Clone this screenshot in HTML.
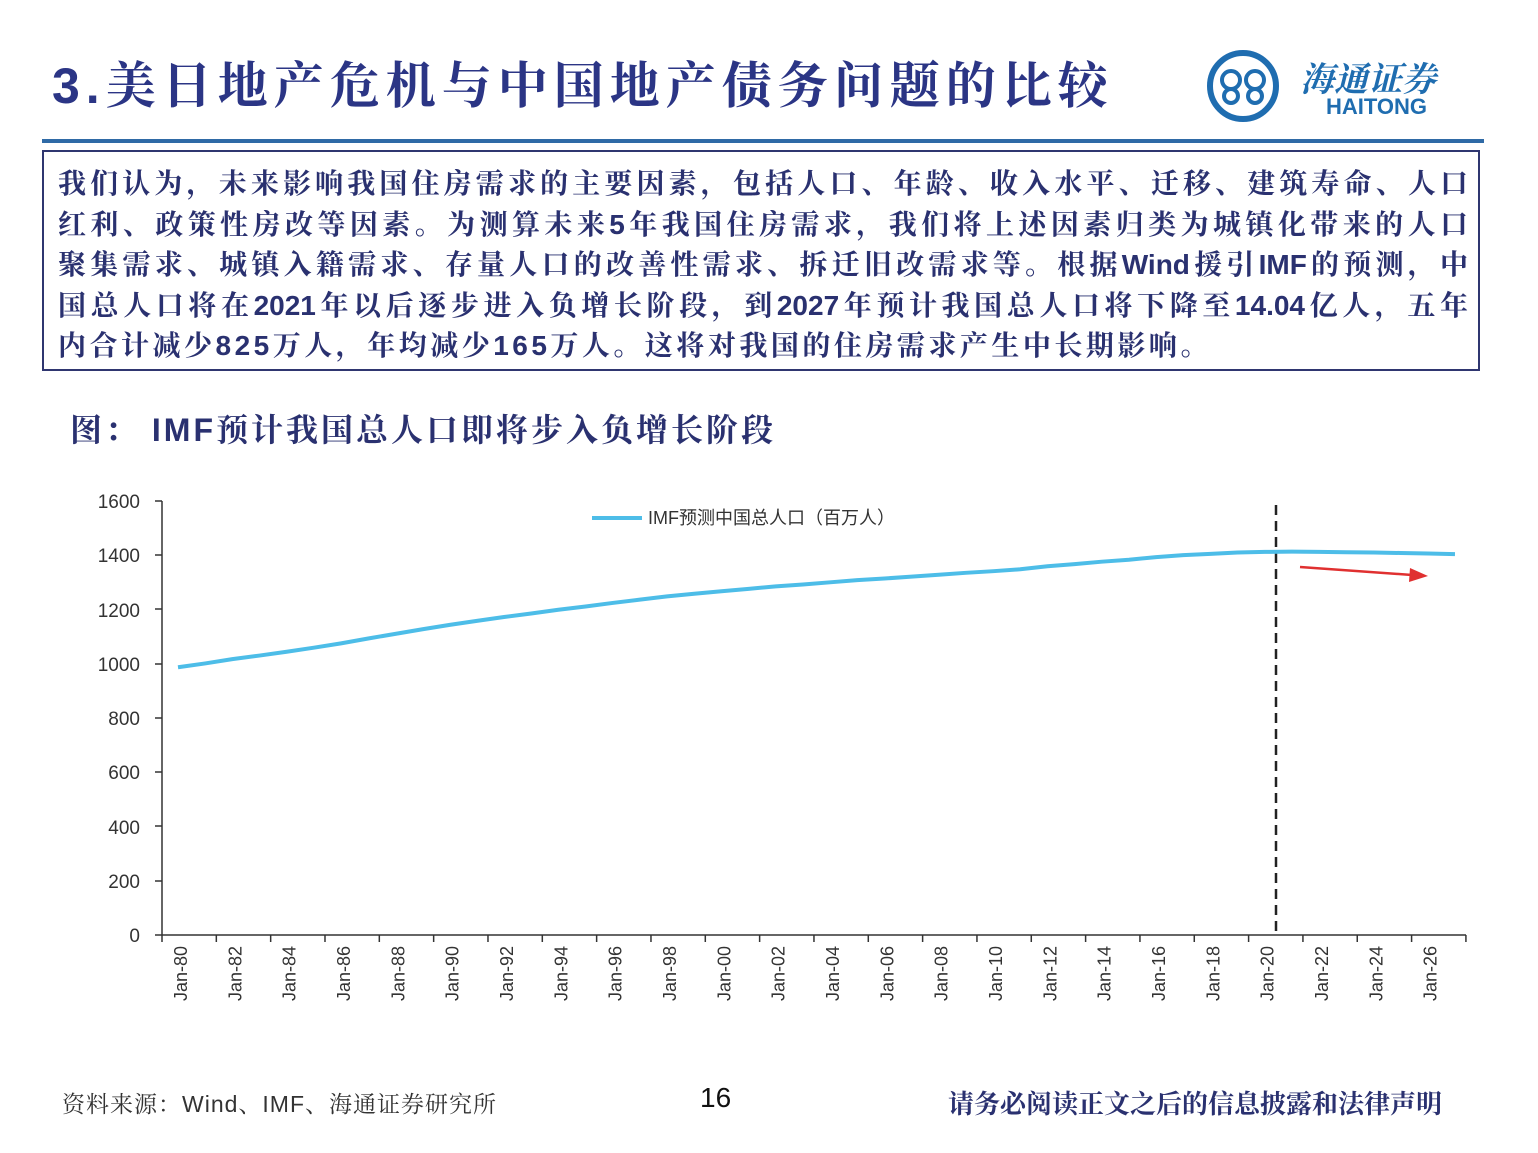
<!DOCTYPE html>
<html><head><meta charset="utf-8"><style>
body{margin:0;width:1538px;height:1153px;background:#fff;position:relative;overflow:hidden;font-family:"Liberation Sans","Noto Sans CJK SC",sans-serif}
.abs{position:absolute}
.title{left:52px;top:46px;font-size:50px;font-weight:bold;color:#2b3585;font-family:"Liberation Sans","Noto Serif CJK SC",serif;letter-spacing:6px;white-space:nowrap}
.box{left:42px;top:150px;width:1438px;height:221px;border:2px solid #2f3670;box-sizing:border-box}
.ln{position:absolute;left:14px;width:1410px;font-size:28px;font-weight:bold;color:#2a3170;font-family:"Liberation Sans","Noto Serif CJK SC",serif;text-align:justify;text-align-last:justify;white-space:nowrap;line-height:40px}
.ct{left:70px;top:405px;font-size:32px;font-weight:bold;color:#2a3170;font-family:"Liberation Sans","Noto Serif CJK SC",serif;white-space:nowrap;letter-spacing:3px}
</style></head><body>
<div class="abs title">3.美日地产危机与中国地产债务问题的比较</div>
<svg class="abs" style="left:1205px;top:48px" width="80" height="76" viewBox="0 0 80 76">
<circle cx="38" cy="38" r="33" fill="none" stroke="#1f6db0" stroke-width="6"/>
<circle cx="26" cy="32" r="9" fill="none" stroke="#1f6db0" stroke-width="4"/>
<circle cx="50" cy="32" r="9" fill="none" stroke="#1f6db0" stroke-width="4"/>
<circle cx="26" cy="48" r="7" fill="none" stroke="#1f6db0" stroke-width="4"/>
<circle cx="50" cy="48" r="7" fill="none" stroke="#1f6db0" stroke-width="4"/>
</svg>
<div class="abs" style="left:1300px;top:52px;font-size:34px;color:#1f6db0;font-weight:bold;font-family:'Noto Serif CJK SC',serif;font-style:italic">海通证券</div>
<div class="abs" style="left:1326px;top:94px;font-size:22px;color:#1f6db0;font-weight:bold">HAITONG</div>
<div class="abs" style="left:42px;top:139px;width:1442px;height:4px;background:#2f6aa6"></div>
<div class="abs box">
<div class="ln" style="top:12px">我们认为，未来影响我国住房需求的主要因素，包括人口、年龄、收入水平、迁移、建筑寿命、人口</div>
<div class="ln" style="top:53px">红利、政策性房改等因素。为测算未来5年我国住房需求，我们将上述因素归类为城镇化带来的人口</div>
<div class="ln" style="top:93px">聚集需求、城镇入籍需求、存量人口的改善性需求、拆迁旧改需求等。根据Wind援引IMF的预测，中</div>
<div class="ln" style="top:134px">国总人口将在2021年以后逐步进入负增长阶段，到2027年预计我国总人口将下降至14.04亿人，五年</div>
<div class="ln" style="top:174px;width:auto;text-align:left;text-align-last:left;letter-spacing:3.5px">内合计减少825万人，年均减少165万人。这将对我国的住房需求产生中长期影响。</div>
</div>
<div class="abs ct">图：&nbsp;IMF预计我国总人口即将步入负增长阶段</div>
<svg class="abs" style="left:0;top:0" width="1538" height="1153">
<g font-family="Liberation Sans,sans-serif" font-size="19" fill="#333" text-anchor="end">
<text x="140" y="942">0</text><text x="140" y="888">200</text><text x="140" y="834">400</text><text x="140" y="779">600</text><text x="140" y="725">800</text><text x="140" y="671">1000</text><text x="140" y="617">1200</text><text x="140" y="562">1400</text><text x="140" y="508">1600</text>
</g>
<g stroke="#333" stroke-width="1.5">
<line x1="162" y1="501" x2="162" y2="935"/>
<line x1="162" y1="935" x2="1466" y2="935"/>
<line x1="155" y1="501" x2="162" y2="501"/><line x1="155" y1="555" x2="162" y2="555"/><line x1="155" y1="609" x2="162" y2="609"/><line x1="155" y1="664" x2="162" y2="664"/><line x1="155" y1="718" x2="162" y2="718"/><line x1="155" y1="772" x2="162" y2="772"/><line x1="155" y1="826" x2="162" y2="826"/><line x1="155" y1="881" x2="162" y2="881"/><line x1="155" y1="935" x2="162" y2="935"/>
</g>
<g id="ticks" stroke="#333" stroke-width="1.5"></g>
<g id="xl" font-family="Liberation Sans,sans-serif" font-size="18" fill="#333" text-anchor="end"></g>
<line x1="1276" y1="505" x2="1276" y2="935" stroke="#222" stroke-width="2.5" stroke-dasharray="10,6"/>
<polyline transform="translate(178,935) scale(27.17,-0.2713)" vector-effect="non-scaling-stroke" fill="none" stroke="#4dbde8" stroke-width="4" points="0,987 1,1001 2,1017 3,1030 4,1044 5,1059 6,1075 7,1093 8,1110 9,1127 10,1143 11,1158 12,1172 13,1185 14,1199 15,1211 16,1224 17,1236 18,1248 19,1258 20,1267 21,1276 22,1285 23,1292 24,1300 25,1308 26,1314 27,1321 28,1328 29,1335 30,1341 31,1348 32,1359 33,1367 34,1376 35,1383 36,1393 37,1400 38,1405 39,1410 40,1412 41,1413 42,1412 43,1411 44,1410 45,1408 46,1406 47,1404"/>
<line x1="1300" y1="567" x2="1412" y2="575" stroke="#e03030" stroke-width="2.5"/>
<polygon points="1428,576 1410,568 1409,582" fill="#e03030"/>
<line x1="592" y1="518" x2="642" y2="518" stroke="#4dbde8" stroke-width="4"/>
<text x="648" y="524" font-size="18" fill="#333" font-family="Liberation Sans,Noto Sans CJK SC,sans-serif">IMF预测中国总人口（百万人）</text>
</svg>
<div class="abs" style="left:62px;top:1086px;font-size:23px;letter-spacing:1px;color:#333;font-family:'Liberation Sans','Noto Serif CJK SC',serif">资料来源：Wind、IMF、海通证券研究所</div>
<div class="abs" style="left:700px;top:1082px;font-size:28px;color:#111">16</div>
<div class="abs" style="left:948px;top:1084px;font-size:26px;font-weight:bold;color:#2a3170;font-family:'Liberation Sans','Noto Serif CJK SC',serif">请务必阅读正文之后的信息披露和法律声明</div>
<script>
var t=document.getElementById('ticks'),xl=document.getElementById('xl'),ns='http://www.w3.org/2000/svg';
for(var k=0;k<=24;k++){var x=162+k*54.33;var l=document.createElementNS(ns,'line');l.setAttribute('x1',x);l.setAttribute('x2',x);l.setAttribute('y1',935);l.setAttribute('y2',942);t.appendChild(l);}
var lab=['80','82','84','86','88','90','92','94','96','98','00','02','04','06','08','10','12','14','16','18','20','22','24','26'];
for(var k=0;k<lab.length;k++){var x=187+k*54.33;var s=document.createElementNS(ns,'text');s.setAttribute('transform','translate('+x+',946) rotate(-90)');s.textContent='Jan-'+lab[k];xl.appendChild(s);}
</script>
</body></html>
